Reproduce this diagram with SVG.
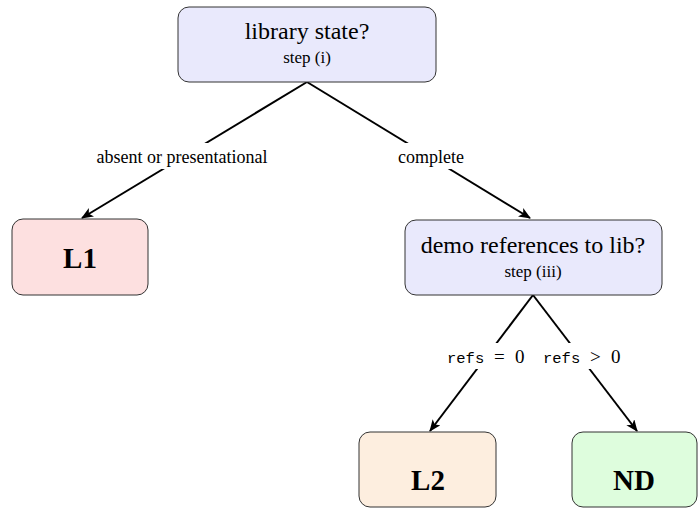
<svg xmlns="http://www.w3.org/2000/svg" width="698" height="508" viewBox="0 0 698 508">
  <defs>
    <marker id="arrow" viewBox="0 0 12 10" refX="11" refY="5" markerWidth="12" markerHeight="10" markerUnits="userSpaceOnUse" orient="auto">
      <path d="M0,0 L12,5 L0,10 L3,5 Z" fill="#000"/>
    </marker>
    <style>
      .box { stroke: #333; stroke-width: 1; }
      .q { fill: #e9e9fc; }
      .l1 { fill: #fde0e0; }
      .l2 { fill: #fdeedf; }
      .nd { fill: #defddd; }
      .t { font-family: "Liberation Serif", "Times New Roman", serif; fill: #000; text-anchor: middle; }
      .big { font-size: 24px; }
      .small { font-size: 17px; }
      .leaf { font-size: 29px; font-weight: bold; }
      .edge { stroke: #000; stroke-width: 2; fill: none; marker-end: url(#arrow); }
      .lbl { font-size: 18px; }
      .mono { font-family: "Liberation Mono", "Courier New", monospace; font-size: 15.5px; fill: #000; }
      .math { font-family: "Liberation Serif", "Times New Roman", serif; font-size: 19px; fill: #000; }
      .bg { fill: #fff; }
    </style>
  </defs>

  <!-- connectors -->
  <g id="connectors">
    <line class="edge" x1="307" y1="82" x2="82" y2="218"/>
    <line class="edge" x1="307" y1="82" x2="530" y2="218"/>
    <line class="edge" x1="533" y1="295" x2="430" y2="431"/>
    <line class="edge" x1="533" y1="295" x2="637" y2="431"/>
    <!-- edge labels with white backing -->
    <rect class="bg" x="90" y="143" width="185" height="26"/>
    <text class="t lbl" x="182" y="163">absent or presentational</text>
    <rect class="bg" x="394" y="143" width="74" height="26"/>
    <text class="t lbl" x="431" y="163">complete</text>
    <rect class="bg" x="442" y="343" width="88" height="26"/>
    <text class="mono" x="447" y="363">refs</text>
    <text class="math" x="494" y="363">=</text>
    <text class="math" x="515" y="363">0</text>
    <rect class="bg" x="538" y="343" width="88" height="26"/>
    <text class="mono" x="543" y="363">refs</text>
    <text class="math" x="590" y="363">&gt;</text>
    <text class="math" x="611" y="363">0</text>
  </g>

  <g id="library-state">
    <rect class="box q" x="178" y="7" width="258" height="75" rx="11"/>
    <text class="t big" x="307" y="39">library state?</text>
    <text class="t small" x="307" y="63">step (i)</text>
  </g>

  <g id="L1">
    <rect class="box l1" x="12" y="219" width="136" height="76" rx="11"/>
    <text class="t leaf" x="80" y="268">L1</text>
  </g>

  <g id="demo-refs">
    <rect class="box q" x="405" y="220" width="257" height="75" rx="11"/>
    <text class="t big" x="533" y="253">demo references to lib?</text>
    <text class="t small" x="533" y="277">step (iii)</text>
  </g>

  <g id="L2">
    <rect class="box l2" x="359" y="432" width="137" height="75" rx="11"/>
    <text class="t leaf" x="428" y="490">L2</text>
  </g>

  <g id="ND">
    <rect class="box nd" x="572" y="432" width="125" height="75" rx="11"/>
    <text class="t leaf" x="634" y="490">ND</text>
  </g>
</svg>
